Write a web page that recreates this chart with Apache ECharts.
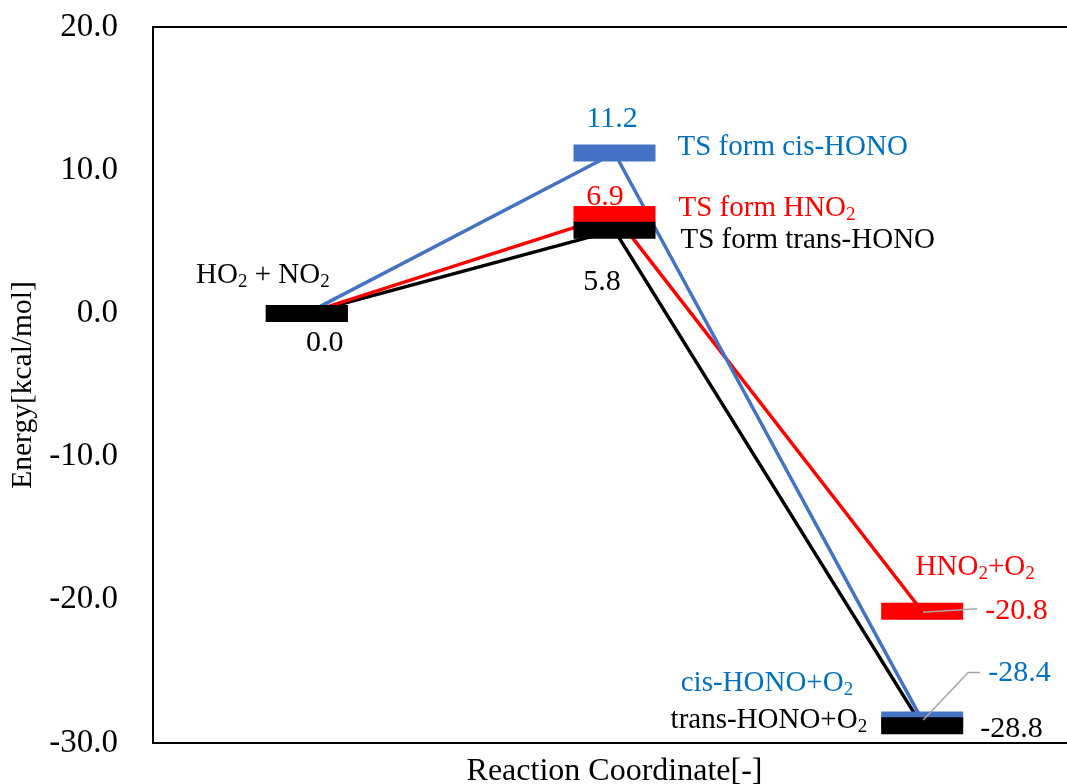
<!DOCTYPE html>
<html><head><meta charset="utf-8">
<script src="https://cdn.jsdelivr.net/npm/echarts@6/dist/echarts.min.js"></script>
<style>html,body{margin:0;padding:0;background:#fff}#c{width:1067px;height:784px}</style>
</head><body><div id="c"></div>
<script>
// ---------- data ----------
const stages = ['Reactants', 'Transition state', 'Products'];
const energyTransHONO = [0.0, 5.8, -28.8];
const energyHNO2      = [0.0, 6.9, -20.8];
const energyCisHONO   = [0.0, 11.2, -28.4];
const namesTransHONO = ['HO{s|2} + NO{s|2}', 'TS form trans-HONO', 'trans-HONO+O{s|2}'];
const namesHNO2      = [null, 'TS form HNO{s|2}', 'HNO{s|2}+O{s|2}'];
const namesCisHONO   = [null, 'TS form cis-HONO', 'cis-HONO+O{s|2}'];
const showValueTransHONO = [true, true, true];
const showValueHNO2      = [false, true, true];
const showValueCisHONO   = [false, true, true];
const yMin = -30, yMax = 20, yStep = 10;

// ---------- styling / layout ----------
const FONT = '"Liberation Serif", "Times New Roman", serif';
const paths = [
  { values: energyTransHONO, names: namesTransHONO, showValue: showValueTransHONO,
    line: '#000000', bar: '#000000', text: '#000000', zBar: 6,
    nameOff: [[-44, -38, 'center'], [66, 10, 'left'], [-55, -5, 'right']],
    valOff:  [[18, 30, 'center'], [-12.5, 52, 'center'], [58, 3, 'left']],
    leader:  [null, null, null] },
  { values: energyHNO2, names: namesHNO2, showValue: showValueHNO2,
    line: '#FF0000', bar: '#FF0000', text: '#FF0000', zBar: 5,
    nameOff: [null, [64, -6, 'left'], [53, -43.6, 'center']],
    valOff:  [null, [-9.5, -17, 'center'], [63, 0, 'left']],
    leader:  [null, null, [[1, 1], [55, -2.6]]] },
  { values: energyCisHONO, names: namesCisHONO, showValue: showValueCisHONO,
    line: '#4472C4', bar: '#4472C4', text: '#0070C0', zBar: 4,
    nameOff: [null, [63, -5.7, 'left'], [-69, -37, 'right']],
    valOff:  [null, [-2.5, -33.7, 'center'], [66, -47, 'left']],
    leader:  [null, null, [[1, 0], [46, -47.7], [58, -47.7]]] }
];
const lineOrder = [0, 1, 2]; // black, red, blue (blue on top)
const BAR_W = 82, BAR_H = 17;

const series = [];
lineOrder.forEach(function (k, i) {
  const p = paths[k];
  series.push({
    type: 'line', data: p.values, symbol: 'none', silent: true,
    lineStyle: { width: 3.5, color: p.line }, z: 2 + i * 0.1
  });
});
paths.forEach(function (p) {
  series.push({
    type: 'custom', z: p.zBar, silent: true,
    data: p.values.map(function (v, i) { return [i, v]; }),
    renderItem: function (params, api) {
      const pt = api.coord([api.value(0), api.value(1)]);
      return { type: 'rect', shape: { x: pt[0] - BAR_W / 2, y: pt[1] - BAR_H / 2, width: BAR_W, height: BAR_H },
               style: { fill: p.bar } };
    }
  });
});
function textEl(x, y, str, color, size, align) {
  return {
    type: 'text', x: x, y: y, z2: 10,
    style: {
      text: str, fill: color, fontSize: size, fontFamily: FONT, align: align, verticalAlign: 'middle',
      lineHeight: 32,
      rich: { s: { fontSize: Math.round(size * 0.66), fontFamily: FONT, fill: color, lineHeight: 12, verticalAlign: 'bottom' } }
    }
  };
}
paths.forEach(function (p) {
  series.push({
    type: 'custom', z: 10, silent: true,
    data: p.values.map(function (v, i) { return [i, v]; }),
    renderItem: function (params, api) {
      const i = params.dataIndex;
      const pt = api.coord([api.value(0), api.value(1)]);
      const children = [];
      if (p.leader[i]) {
        children.push({ type: 'polyline', shape: { points: p.leader[i].map(function (o) { return [pt[0] + o[0], pt[1] + o[1]]; }) },
                        style: { stroke: '#A6A6A6', lineWidth: 1.5, fill: null } });
      }
      if (p.names[i] && p.nameOff[i]) {
        const o = p.nameOff[i];
        children.push(textEl(pt[0] + o[0], pt[1] + o[1], p.names[i], p.text, 29, o[2]));
      }
      if (p.showValue[i] && p.valOff[i]) {
        const o = p.valOff[i];
        children.push(textEl(pt[0] + o[0], pt[1] + o[1], api.value(1).toFixed(1), p.text, 30, o[2]));
      }
      return { type: 'group', children: children };
    }
  });
});

const chart = echarts.init(document.getElementById('c'), null, { renderer: 'canvas' });
chart.setOption({
  animation: false,
  backgroundColor: '#ffffff',
  grid: { left: 153, right: -9, top: 27, bottom: 41, show: true, borderColor: '#000', borderWidth: 2,
          containLabel: false, outerBoundsMode: 'none' },
  xAxis: {
    type: 'category', data: stages, boundaryGap: true,
    axisLabel: { show: false }, axisTick: { show: false },
    axisLine: { show: true, onZero: false, lineStyle: { color: '#000', width: 2 } },
    splitLine: { show: false },
    name: 'Reaction Coordinate[-]', nameLocation: 'middle', nameGap: 13,
    nameTextStyle: { fontSize: 32, fontFamily: FONT, color: '#000' }
  },
  yAxis: {
    type: 'value', min: yMin, max: yMax, interval: yStep,
    axisLabel: { formatter: function (v) { return v.toFixed(1); }, fontSize: 33, fontFamily: FONT, color: '#000', margin: 35 },
    axisTick: { show: false }, splitLine: { show: false },
    axisLine: { show: true, lineStyle: { color: '#000', width: 2 } },
    name: 'Energy[kcal/mol]', nameLocation: 'middle', nameGap: 107,
    nameTextStyle: { fontSize: 29.5, fontFamily: FONT, color: '#000' }
  },
  series: series
});
</script></body></html>
